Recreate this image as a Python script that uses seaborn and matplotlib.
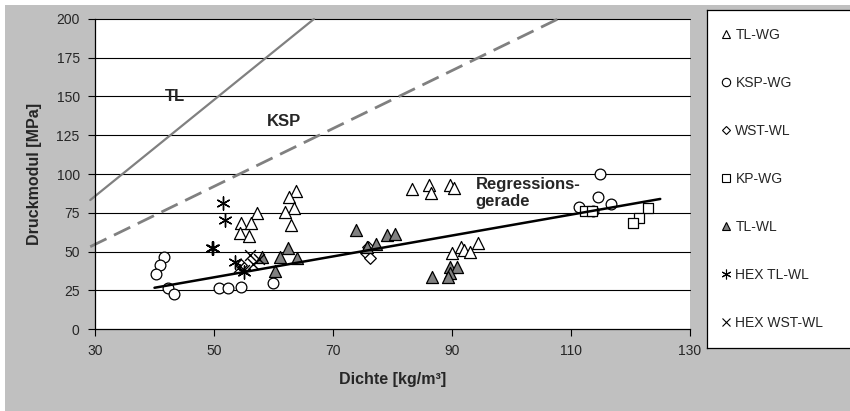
import matplotlib
matplotlib.use("Agg")
import matplotlib.pyplot as plt
from matplotlib.lines import Line2D
from matplotlib.patches import Rectangle
import seaborn as sns

# --- measured data: density [kg/m³] vs. compressive modulus [MPa] ---
tl_wg_x = [63.7, 62.6, 63.4, 61.9, 63.0, 57.3, 54.5, 56.3, 54.3, 55.9,
           83.2, 86.1, 86.4, 89.6, 90.3, 90.0, 91.5, 92.1, 93.0, 94.4]
tl_wg_y = [89.0, 85.4, 77.9, 75.7, 67.1, 74.6, 68.6, 68.2, 61.7, 60.0,
           90.1, 92.9, 87.5, 92.9, 90.8, 49.2, 52.7, 51.0, 49.9, 55.7]

ksp_wg_x = [41.6, 40.9, 40.2, 42.3, 43.2, 50.8, 52.4, 54.5, 59.9,
            114.8, 114.6, 116.7, 111.4, 113.7]
ksp_wg_y = [46.6, 41.3, 35.5, 26.2, 22.6, 26.7, 26.2, 26.9, 29.8,
            100.0, 85.4, 80.4, 78.9, 76.3]

wst_wl_x = [75.8, 75.5, 76.3, 54.6]
wst_wl_y = [52.7, 48.8, 45.6, 41.5]

kp_wg_x = [112.4, 113.5, 122.9, 121.4, 120.4]
kp_wg_y = [76.3, 76.3, 77.9, 71.8, 68.2]

tl_wl_x = [58.0, 61.1, 62.4, 64.0, 60.3, 73.9, 75.7, 77.2, 79.1, 80.5,
           86.7, 89.6, 90.9, 89.6, 89.4]
tl_wl_y = [46.7, 46.3, 52.1, 46.0, 37.6, 63.9, 53.1, 54.8, 60.6, 61.3,
           33.8, 40.2, 39.8, 35.9, 33.4]

hex_tl_wl_x = [51.5, 51.8, 49.6, 49.8, 53.5, 55.0]
hex_tl_wl_y = [81.1, 70.3, 52.1, 52.5, 43.4, 37.0]

hex_wst_wl_x = [56.0, 57.5, 55.0, 56.6, 54.2]
hex_wst_wl_y = [47.7, 45.0, 38.0, 42.0, 40.0]

# reference lines
tl_line_x = [29.2, 66.8]
tl_line_y = [83.2, 200.0]
ksp_line_x = [29.2, 107.8]
ksp_line_y = [53.1, 200.0]
reg_line_x = [40.0, 125.0]
reg_line_y = [26.6, 83.9]

x_ticks = [30, 50, 70, 90, 110, 130]
y_ticks = [0, 25, 50, 75, 100, 125, 150, 175, 200]

sns.set_theme(style="white")
plt.rcParams["font.family"] = ["Liberation Sans", "DejaVu Sans"]

W, H = 850, 411
fig = plt.figure(figsize=(W / 100, H / 100), dpi=100)
fig.patch.set_facecolor("white")
fig.add_artist(Rectangle((5 / W, 0), 1, 1 - 5 / H, transform=fig.transFigure,
                         facecolor="#c0c0c0", edgecolor="none", zorder=-10))

ax = fig.add_axes([95 / W, 1 - 329 / H, 595 / W, 310 / H])
ax.set_facecolor("white")
ax.set_xlim(30, 130)
ax.set_ylim(0, 200)
ax.set_xticks(x_ticks)
ax.set_yticks(y_ticks)
ax.tick_params(axis="both", direction="out", length=5, width=0.8,
               color="black", labelsize=10, pad=6, left=True, bottom=True)
for s in ["top", "right"]:
    ax.spines[s].set_visible(False)
for s in ["left", "bottom"]:
    ax.spines[s].set_color("black")
    ax.spines[s].set_linewidth(0.9)
for yv in y_ticks[1:]:
    ax.axhline(yv, color="black", lw=0.8, zorder=0, clip_on=False)

# theoretical and regression lines
sns.lineplot(x=tl_line_x, y=tl_line_y, ax=ax, color="#808080", lw=1.6,
             sort=False, estimator=None, clip_on=False, zorder=2)
sns.lineplot(x=ksp_line_x, y=ksp_line_y, ax=ax, color="#808080", lw=2.0,
             sort=False, estimator=None, clip_on=False, zorder=2,
             dashes=False, linestyle=(0, (6.5, 3)))
sns.lineplot(x=reg_line_x, y=reg_line_y, ax=ax, color="black", lw=1.8,
             sort=False, estimator=None, zorder=4)

open_kw = dict(facecolor="white", edgecolor="black", linewidth=0.9, zorder=3)
sns.scatterplot(x=tl_wg_x, y=tl_wg_y, marker="^", s=75, ax=ax, **open_kw)
sns.scatterplot(x=ksp_wg_x, y=ksp_wg_y, marker="o", s=60, ax=ax, **open_kw)
sns.scatterplot(x=wst_wl_x, y=wst_wl_y, marker="D", s=35, ax=ax, **open_kw)
sns.scatterplot(x=kp_wg_x, y=kp_wg_y, marker="s", s=55, ax=ax, **open_kw)
sns.scatterplot(x=tl_wl_x, y=tl_wl_y, marker="^", s=75, ax=ax,
                facecolor="#808080", edgecolor="black", linewidth=0.9, zorder=3)
sns.scatterplot(x=hex_tl_wl_x, y=hex_tl_wl_y, marker=(6, 2, 0), s=90, ax=ax,
                color="black", linewidth=1.0, zorder=3)
sns.scatterplot(x=hex_wst_wl_x, y=hex_wst_wl_y, marker="x", s=60, ax=ax,
                color="black", linewidth=1.0, zorder=3)

ax.text(43.5, 150, "TL", fontsize=12, fontweight="bold", ha="center", va="center", zorder=5)
ax.text(58.9, 134, "KSP", fontsize=12, fontweight="bold", ha="left", va="center", zorder=5)
ax.text(94.0, 87.5, "Regressions-\ngerade", fontsize=12, fontweight="bold",
        ha="left", va="center", linespacing=1.15, zorder=5)

ax.set_xlabel("Dichte [kg/m³]", fontsize=11.5, fontweight="bold", labelpad=10)
ax.set_ylabel("Druckmodul [MPa]", fontsize=11.5, fontweight="bold", labelpad=10)

# legend panel
lax = fig.add_axes([707 / W, 1 - 348 / H, (W - 707) / W + 0.01, 338 / H])
lax.set_facecolor("white")
lax.set_xticks([])
lax.set_yticks([])
for s in lax.spines.values():
    s.set_color("black")
    s.set_linewidth(0.9)

ms = 6
handles = [
    Line2D([], [], ls="none", marker="^", ms=ms, mfc="white", mec="black", mew=0.8),
    Line2D([], [], ls="none", marker="o", ms=ms, mfc="white", mec="black", mew=0.8),
    Line2D([], [], ls="none", marker="D", ms=ms - 1.5, mfc="white", mec="black", mew=0.8),
    Line2D([], [], ls="none", marker="s", ms=ms, mfc="white", mec="black", mew=0.8),
    Line2D([], [], ls="none", marker="^", ms=ms, mfc="#808080", mec="black", mew=0.8),
    Line2D([], [], ls="none", marker=(6, 2, 0), ms=ms + 1, color="black", mew=0.8),
    Line2D([], [], ls="none", marker="x", ms=ms, color="black", mew=0.8),
]
labels = ["TL-WG", "KSP-WG", "WST-WL", "KP-WG", "TL-WL", "HEX TL-WL", "HEX WST-WL"]
lax.legend(handles, labels, loc="center left", bbox_to_anchor=(0.05, 0.5),
           frameon=False, fontsize=10, labelspacing=2.45, handlelength=0.8,
           handletextpad=0.3, borderaxespad=0)

fig.savefig("out.png", dpi=100)
